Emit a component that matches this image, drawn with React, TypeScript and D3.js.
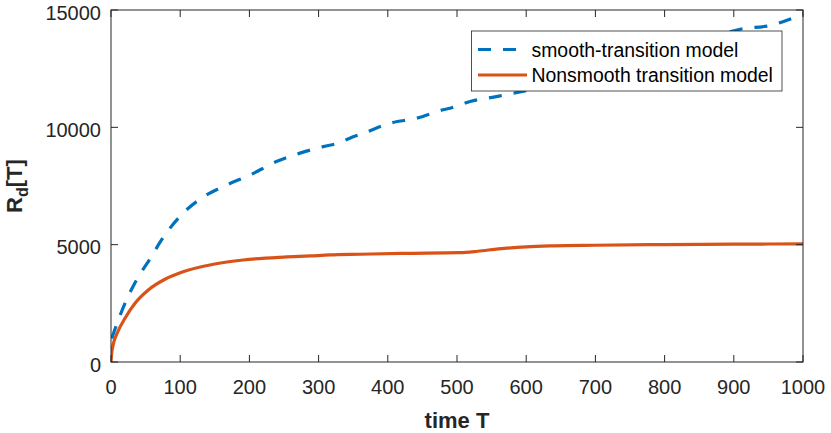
import React from "react";
import * as d3 from "d3";

const smoothT = [1, 5.3, 20.2, 37, 57.8, 73, 101.6, 130.5, 162, 201, 239, 273, 307, 331, 345, 365, 403, 442, 480, 490, 519, 555, 593, 650, 700, 750, 800, 850, 909, 957, 971, 991, 1000];
const smoothV = [1000, 1364, 2500, 3496, 4463, 5200, 6267, 6978, 7474, 7972, 8540, 8900, 9180, 9350, 9535, 9750, 10175, 10390, 10750, 10815, 11100, 11300, 11520, 11900, 12350, 12800, 13250, 13650, 14180, 14370, 14500, 14720, 14830];

const nonsmoothT = [0, 1, 3, 10, 20.2, 34.7, 53.9, 78, 102, 150, 191, 250, 288, 316, 360, 420, 504, 530, 560, 600, 640, 700, 800, 900, 1000];
const nonsmoothV = [0, 380, 720, 1300, 1863, 2502, 3069, 3525, 3824, 4178, 4348, 4470, 4519, 4561, 4591, 4630, 4660, 4720, 4820, 4910, 4950, 4975, 5005, 5020, 5035];

const xTicks = [0, 100, 200, 300, 400, 500, 600, 700, 800, 900, 1000];
const yTicks = [0, 5000, 10000, 15000];

const seriesNames = ["smooth-transition model", "Nonsmooth transition model"];
const axisLabelX = "time T";

const W = 831;
const H = 433;
const left = 111;
const right = 803;
const top = 10;
const bottom = 362;
const axisColor = "#262626";
const blue = "#0072BD";
const orange = "#D95319";
const font = "'Liberation Sans', Arial, Helvetica, sans-serif";

export default function App() {
  const x = d3.scaleLinear().domain([0, 1000]).range([left, right]);
  const y = d3.scaleLinear().domain([0, 15000]).range([bottom, top]);

  const line = d3
    .line<[number, number]>()
    .x((d) => x(d[0]))
    .y((d) => y(d[1]))
    .curve(d3.curveMonotoneX);

  const smoothPath = line(smoothT.map((t, i) => [t, smoothV[i]] as [number, number])) || "";
  const nonsmoothPath = line(nonsmoothT.map((t, i) => [t, nonsmoothV[i]] as [number, number])) || "";

  const tickLen = 7;
  const legX = 471.5;
  const legY = 31;
  const legW = 310.5;
  const legH = 60;
  const row1 = 49.5;
  const row2 = 75;

  return (
    <div style={{ position: "fixed", left: 0, top: 0, width: W, height: H, background: "#fff" }}>
      <svg width={W} height={H} viewBox={`0 0 ${W} ${H}`} style={{ display: "block" }}>
        <defs>
          <clipPath id="plotClip">
            <rect x={left} y={top - 2} width={right - left + 2} height={bottom - top + 4} />
          </clipPath>
        </defs>
        <rect x={0} y={0} width={W} height={H} fill="#fff" />

        {/* lines */}
        <g clipPath="url(#plotClip)">
          <path d={smoothPath} fill="none" stroke={blue} strokeWidth={3.2} strokeDasharray="13,12" />
          <path d={nonsmoothPath} fill="none" stroke={orange} strokeWidth={3.2} />
        </g>

        {/* axes box */}
        <rect x={left} y={top} width={right - left} height={bottom - top} fill="none" stroke={axisColor} strokeWidth={1} />

        {/* x ticks */}
        {xTicks.map((t) => (
          <g key={`x${t}`}>
            <line x1={x(t)} x2={x(t)} y1={bottom} y2={bottom - tickLen} stroke={axisColor} strokeWidth={1} />
            <line x1={x(t)} x2={x(t)} y1={top} y2={top + tickLen} stroke={axisColor} strokeWidth={1} />
            <text x={x(t)} y={bottom + 32} textAnchor="middle" fontFamily={font} fontSize={20} fill={axisColor}>
              {t}
            </text>
          </g>
        ))}

        {/* y ticks */}
        {yTicks.map((t) => (
          <g key={`y${t}`}>
            <line x1={left} x2={left + tickLen} y1={y(t)} y2={y(t)} stroke={axisColor} strokeWidth={1} />
            <line x1={right} x2={right - tickLen} y1={y(t)} y2={y(t)} stroke={axisColor} strokeWidth={1} />
            <text x={left - 10} y={y(t) + 9.5} textAnchor="end" fontFamily={font} fontSize={20} fill={axisColor}>
              {t}
            </text>
          </g>
        ))}

        {/* axis labels */}
        <text x={(left + right) / 2} y={428} textAnchor="middle" fontFamily={font} fontSize={22} fontWeight="bold" fill={axisColor}>
          {axisLabelX}
        </text>
        <text
          transform={`translate(21.5, ${(top + bottom) / 2}) rotate(-90)`}
          textAnchor="middle"
          fontFamily={font}
          fontSize={22}
          fontWeight="bold"
          fill={axisColor}
        >
          R<tspan fontSize={16} dy={6}>d</tspan>
          <tspan dy={-6}>[T]</tspan>
        </text>

        {/* legend */}
        <rect x={legX} y={legY} width={legW} height={legH} fill="#fff" stroke={axisColor} strokeWidth={0.8} />
        <line x1={478} x2={527} y1={row1} y2={row1} stroke={blue} strokeWidth={3.2} strokeDasharray="13,12" />
        <line x1={478} x2={527} y1={row2} y2={row2} stroke={orange} strokeWidth={3.2} />
        <text x={531.5} y={row1 + 7} fontFamily={font} fontSize={19.4} fill="#000">
          {seriesNames[0]}
        </text>
        <text x={531.5} y={row2 + 7} fontFamily={font} fontSize={19.4} fill="#000">
          {seriesNames[1]}
        </text>
      </svg>
    </div>
  );
}
